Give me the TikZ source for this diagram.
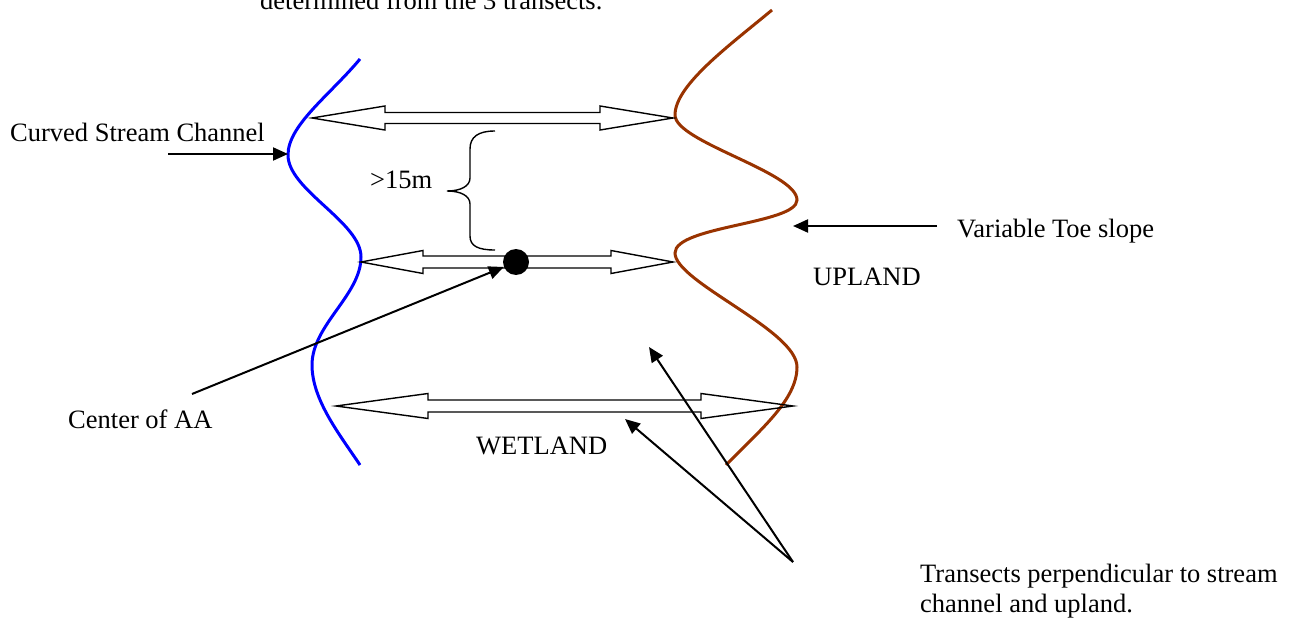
\documentclass[tikz,border=0pt]{standalone}
\usepackage{fontspec}
\setmainfont{Liberation Serif}
\usetikzlibrary{arrows.meta}
\definecolor{streamblue}{RGB}{0,0,255}
\definecolor{uplandbrown}{RGB}{153,51,0}
\tikzset{
  lbl/.style={inner sep=0pt, anchor=base west, font=\fontsize{26.5}{30}\selectfont},
  stream/.style={draw=streamblue, line width=3pt},
  toe/.style={draw=uplandbrown, line width=3pt},
  ptr/.style={draw=black, line width=2pt, -{Triangle[length=15pt,width=13pt]}},
  blockarrow/.style={draw=black, line width=1.4pt, line join=miter},
  bracestyle/.style={draw=black, line width=1.4pt},
}
\begin{document}
\begin{tikzpicture}[x=1pt,y=-1pt]
\useasboundingbox (0,0) rectangle (1296,623);

% texts
\node[lbl] (top) at (260,9.5) {determined from the 3 transects.};
\node[lbl] (csc) at (10,142) {Curved Stream Channel};
\node[lbl] (dist) at (370,189) {>15m};
\node[lbl] (vts) at (957,237) {Variable Toe slope};
\node[lbl] (upl) at (813,285) {UPLAND};
\node[lbl] (caa) at (68,428) {Center of AA};
\node[lbl] (wet) at (476,454) {WETLAND};
\node[lbl, anchor=north west, align=left] (trn) at (920,564) {Transects perpendicular to stream\\channel and upland.};

% stream channel (blue)
\draw[stream] (360,59) .. controls (330,95) and (288,125) .. (288,155)
  .. controls (288,190) and (361,222) .. (361,257)
  .. controls (361,295) and (312,325) .. (312,365)
  .. controls (312,400) and (340,435) .. (360,465);

% toe slope (brown)
\draw[toe] (772,10) .. controls (730,45) and (675,85) .. (675,115)
  .. controls (675,142) and (797,172) .. (797,200)
  .. controls (797,224) and (675,226) .. (675,253)
  .. controls (675,282) and (797,330) .. (797,367)
  .. controls (797,400) and (760,430) .. (726,465);

% transects (block double arrows)
\draw[blockarrow] (312,118) -- (385,106) -- (385,112.5) -- (600,112.5) -- (600,106) -- (673,118)
  -- (600,130) -- (600,123.5) -- (385,123.5) -- (385,130) -- cycle;
\draw[blockarrow] (361,262) -- (423,250.5) -- (423,256) -- (611,256) -- (611,250.5) -- (673,262)
  -- (611,273.5) -- (611,268) -- (423,268) -- (423,273.5) -- cycle;
\draw[blockarrow] (336,406) -- (428,393.5) -- (428,400) -- (701,400) -- (701,393.5) -- (793,406)
  -- (701,418.5) -- (701,412) -- (428,412) -- (428,418.5) -- cycle;

% centre of AA
\node[circle, fill=black, inner sep=0pt, minimum size=26pt] (aa) at (516,262) {};

% brace
\draw[bracestyle] (495,131) .. controls (478,131) and (470,137) .. (470,149) -- (470,178)
  .. controls (470,186) and (461,191) .. (447,191)
  .. controls (461,191) and (470,196) .. (470,204) -- (470,236)
  .. controls (470,246) and (478,250) .. (495,250);

% pointer arrows
\coordinate (cscfrom) at (168,154);
\coordinate (bluebend) at (288,154);
\coordinate (vtsfrom) at (937,226);
\coordinate (brownbend) at (793,226);
\coordinate (caafrom) at (192,394);
\coordinate (trnfrom) at (793,562);
\coordinate (trnA) at (649,347);
\coordinate (trnB) at (625,419);

\draw[ptr] (cscfrom) -- (bluebend);
\draw[ptr] (vtsfrom) -- (brownbend);
\draw[ptr] (caafrom) -- (aa);
\draw[ptr] (trnfrom) -- (trnA);
\draw[ptr] (trnfrom) -- (trnB);
\end{tikzpicture}
\end{document}
